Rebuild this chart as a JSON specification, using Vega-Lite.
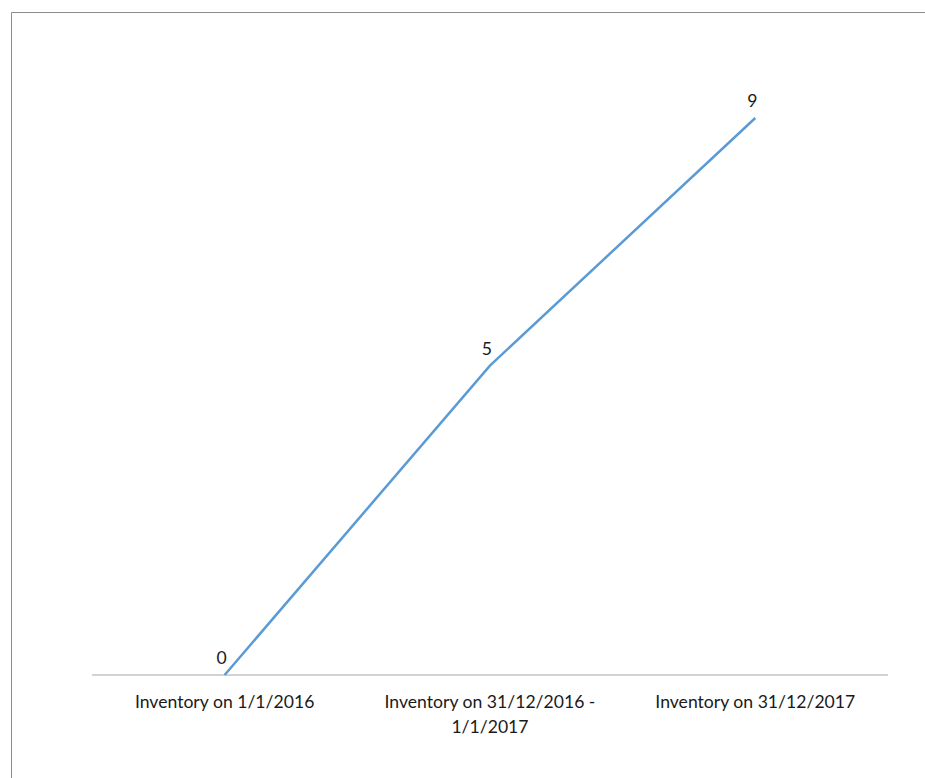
{
  "$schema": "https://vega.github.io/schema/vega-lite/v6.json",
  "width": 914,
  "height": 766,
  "autosize": {"type": "none"},
  "padding": {"left": 11, "top": 12, "right": 0, "bottom": 0},
  "background": "white",
  "config": {
    "view": {"stroke": null},
    "font": "Lato"
  },
  "data": {
    "values": [
      {"stage": "Inventory on 1/1/2016", "count": 0},
      {"stage": "Inventory on 31/12/2016 - 1/1/2017", "count": 5},
      {"stage": "Inventory on 31/12/2017", "count": 9}
    ]
  },
  "layer": [
    {
      "mark": {"type": "rule", "color": "#A6A6A6", "strokeWidth": 1},
      "encoding": {
        "x": {"field": "stage", "type": "nominal", "sort": null, "bandPosition": 0},
        "x2": {"field": "stage", "bandPosition": 1},
        "y": {"datum": 0, "type": "quantitative"}
      }
    },
    {
      "mark": {"type": "line", "color": "#5B9BD5", "strokeWidth": 2.5},
      "encoding": {
        "x": {
          "field": "stage",
          "type": "nominal",
          "sort": null,
          "bandPosition": 0.5,
          "scale": {"type": "band", "paddingInner": 0, "paddingOuter": 0.2224, "align": 0.686},
          "axis": {
            "orient": "bottom",
            "offset": -103,
            "bandPosition": 0.5,
            "title": null,
            "domain": false,
            "ticks": false,
            "tickSize": 0,
            "grid": false,
            "labelAngle": 0,
            "labelAlign": "center",
            "labelPadding": 27,
            "labelFont": "Lato",
            "labelFontSize": 17.6,
            "labelColor": "#1a1a1a",
            "labelLineHeight": 25,
            "labelLimit": 400,
            "labelExpr": "indexof(datum.label, ' - ') > 0 ? [slice(datum.label, 0, indexof(datum.label, ' - ') + 2), slice(datum.label, indexof(datum.label, ' - ') + 3)] : datum.label"
          }
        },
        "y": {
          "field": "count",
          "type": "quantitative",
          "scale": {"domain": [-1.664, 10.713], "nice": false, "zero": false},
          "axis": {
            "title": null,
            "values": [10.713],
            "labels": false,
            "ticks": false,
            "domain": true,
            "domainColor": "#8C8C8C",
            "grid": true,
            "gridColor": "#8C8C8C",
            "gridOpacity": 1
          }
        }
      }
    },
    {
      "mark": {"type": "text", "font": "Lato", "fontSize": 17.6, "color": "#1a1a1a", "align": "center", "baseline": "alphabetic", "dx": -3, "dy": -11},
      "encoding": {
        "x": {"field": "stage", "type": "nominal", "sort": null, "bandPosition": 0.5},
        "y": {"field": "count", "type": "quantitative"},
        "text": {"field": "count", "type": "quantitative"}
      }
    }
  ]
}
